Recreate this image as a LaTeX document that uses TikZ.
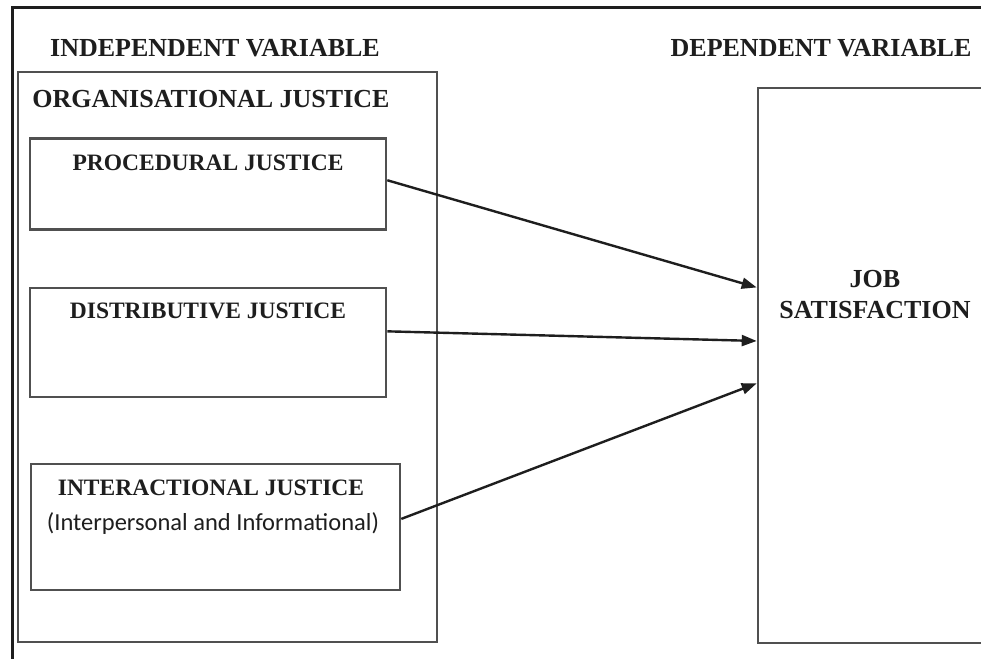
\documentclass[tikz,border=0pt]{standalone}
\usepackage{fontspec}
\setmainfont{Liberation Serif}
\newfontfamily\calfont{Carlito}
\usepackage{tikz}
\usetikzlibrary{arrows.meta, positioning, calc}
\definecolor{inkdark}{RGB}{30,30,30}
\definecolor{boxline}{RGB}{80,80,80}
\definecolor{framegray}{RGB}{30,30,30}
\tikzset{
  heading/.style  = {font=\fontsize{26}{31}\selectfont\bfseries, text=inkdark,
                     inner sep=0pt},
  subhead/.style  = {font=\fontsize{23.5}{26}\selectfont\bfseries, text=inkdark,
                     inner sep=0pt},
  frame/.style    = {rectangle, draw=boxline, line width=2.6pt, inner sep=0pt},
  arrow/.style    = {-{Triangle[length=15pt, width=11pt]}, line width=2.4pt,
                     draw=inkdark},
}
\begin{document}
\begin{tikzpicture}[x=1pt, y=-1pt,
  factor/.style={frame, minimum width=356pt, minimum height=#1},
  factor/.default=92pt
]
  \clip (0,0) rectangle (981,658);
  \fill[white] (0,0) rectangle (981,658);
  % outer border of the figure
  \draw[framegray, line width=3pt] (12,700) -- (12,8) -- (1000,8);

  % independent side
  \node[heading] (indep) at (215,48) {INDEPENDENT VARIABLE};
  \node[frame, minimum width=419pt, minimum height=570pt] (org) at (227.5,357) {};
  \node[heading] (orgt) at (211,99) {ORGANISATIONAL JUSTICE};

  \node[factor=91pt]  (proc) at (208,184) {};
  \node[subhead] (proct) at (208,163) {PROCEDURAL JUSTICE};
  \node[factor=109pt] (dist) at (208,342.5) {};
  \node[subhead] (distt) at (208,311) {DISTRIBUTIVE JUSTICE};
  \node[frame, minimum width=369pt, minimum height=126pt] (inter) at (215.5,527) {};
  \node[subhead] (intert) at (211,488) {INTERACTIONAL JUSTICE};
  \node[font=\calfont\fontsize{24.5}{28}\selectfont, text=inkdark, inner sep=0pt]
    (intersub) at (213,524) {(Interpersonal and Informational)};

  % dependent side
  \node[heading] (dep) at (821,48) {DEPENDENT VARIABLE};
  \node[frame, minimum width=260pt, minimum height=555pt] (job) at (888,365.5) {};
  \node[heading, align=center] (jobt) at (875,295) {JOB\\SATISFACTION};

  \draw[arrow] ($(proc.north east)!0.46!(proc.south east)$)
    -- ($(job.north west)!0.36!(job.south west)$);
  \draw[arrow] ($(dist.north east)!0.40!(dist.south east)$)
    -- ($(job.north west)!0.456!(job.south west)$);
  \draw[arrow] ($(inter.north east)!0.437!(inter.south east)$)
    -- ($(job.north west)!0.532!(job.south west)$);
\end{tikzpicture}
\end{document}
